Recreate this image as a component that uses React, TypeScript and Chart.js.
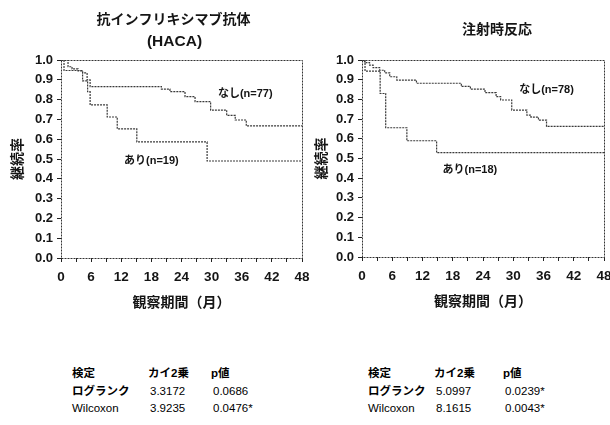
import React, { useEffect, useRef } from 'react';
import { Chart, registerables } from 'chart.js';

Chart.register(...registerables);

// ---- Data: Kaplan-Meier curves (time in months, survival proportion) ----
const hacaNegTimes = [0, 1.4, 2.2, 3.4, 4.3, 5.2, 5.8, 20.0, 21.7, 24.7, 26.7, 29.8, 33.0, 34.7, 36.9, 48];
const hacaNegSurv = [1.0, 0.966, 0.955, 0.945, 0.935, 0.9, 0.866, 0.853, 0.84, 0.815, 0.79, 0.747, 0.72, 0.697, 0.667, 0.667];
const hacaPosTimes = [0, 0.6, 4.3, 5.3, 5.8, 9.2, 11.2, 15.1, 29.1, 48];
const hacaPosSurv = [1.0, 0.947, 0.895, 0.84, 0.773, 0.712, 0.652, 0.586, 0.49, 0.49];

const injNegTimes = [0, 0.5, 1.5, 2.2, 3.5, 4.5, 5.5, 6.9, 10.8, 19.7, 21.5, 24.4, 26.6, 27.5, 29.7, 32.7, 33.5, 35.0, 36.6, 48];
const injNegSurv = [1.0, 0.987, 0.974, 0.961, 0.948, 0.935, 0.915, 0.898, 0.882, 0.866, 0.852, 0.834, 0.814, 0.797, 0.746, 0.72, 0.71, 0.695, 0.663, 0.663];
const injPosTimes = [0, 0.6, 3.6, 4.7, 8.9, 14.8, 48];
const injPosSurv = [1.0, 0.944, 0.83, 0.656, 0.59, 0.53, 0.53];

// ---- Text ----
const hacaTitle = ['抗インフリキシマブ抗体', '(HACA)'];
const injTitle = ['注射時反応'];
const xAxisTitle = '観察期間（月）';
const yAxisTitle = '継続率';
const hacaNegLabel = 'なし(n=77)';
const hacaPosLabel = 'あり(n=19)';
const injNegLabel = 'なし(n=78)';
const injPosLabel = 'あり(n=18)';

// ---- Statistics tables ----
const statHeaders = ['検定', 'カイ2乗', 'p値'];
const testNames = ['ログランク', 'Wilcoxon'];
const hacaChi = ['3.3172', '3.9235'];
const hacaP = ['0.0686', '0.0476*'];
const injChi = ['5.0997', '8.1615'];
const injP = ['0.0239*', '0.0043*'];

const LATIN = '"Liberation Sans", Arial, "Noto Sans CJK JP", sans-serif';
const JP = '"Noto Sans CJK JP", "Liberation Sans", sans-serif';
const INK = '#151515';

const toPoints = (t: number[], s: number[]) => t.map((x, i) => ({ x, y: s[i] }));

const kmTextPlugin = {
  id: 'kmText',
  afterDatasetsDraw(chart: any, _args: any, opts: any) {
    const { ctx, chartArea, scales } = chart;
    ctx.save();
    ctx.strokeStyle = '#333';
    ctx.lineWidth = 1;
    ctx.setLineDash([2, 1]);
    ctx.strokeRect(chartArea.left + 0.5, chartArea.top + 0.5, chartArea.right - chartArea.left, chartArea.bottom - chartArea.top);
    ctx.setLineDash([]);
    ctx.fillStyle = INK;
    ctx.textAlign = 'center';
    ctx.textBaseline = 'middle';
    const cx = (chartArea.left + chartArea.right) / 2;
    (opts.titles || []).forEach((t: any) => {
      ctx.font = t.font;
      ctx.fillText(t.text, cx + t.dx, t.y);
    });
    (opts.labels || []).forEach((l: any) => {
      ctx.font = `bold 11px ${LATIN}`;
      ctx.fillText(l.text, scales.x.getPixelForValue(l.x), scales.y.getPixelForValue(l.y));
    });
    ctx.restore();
  },
};

type KMProps = {
  left: number;
  width: number;
  height: number;
  padRight: number;
  yWidth: number;
  xHeight: number;
  yTitlePad: number;
  xTitlePad: number;
  series: { times: number[]; surv: number[] }[];
  titles: { text: string; dx: number; y: number; font: string }[];
  labels: { text: string; x: number; y: number }[];
};

function KMChart(p: KMProps) {
  const ref = useRef<HTMLCanvasElement>(null);
  useEffect(() => {
    if (!ref.current) return;
    const chart = new Chart(ref.current, {
      type: 'line',
      data: {
        datasets: p.series.map((s) => ({
          data: toPoints(s.times, s.surv),
          stepped: 'before' as const,
          borderColor: '#3a3a3a',
          borderWidth: 1.2,
          borderDash: [2, 1],
          pointRadius: 0,
          fill: false,
        })),
      },
      options: {
        responsive: false,
        animation: false,
        devicePixelRatio: 1,
        layout: { padding: { left: 0, top: 60, right: p.padRight, bottom: 0 } },
        plugins: {
          legend: { display: false },
          tooltip: { enabled: false },
          title: { display: false },
          kmText: { titles: p.titles, labels: p.labels },
        } as any,
        scales: {
          x: {
            type: 'linear',
            min: 0,
            max: 48,
            border: { display: false },
            grid: { drawOnChartArea: false, drawTicks: true, tickLength: 4, color: '#222' },
            ticks: {
              stepSize: 3,
              autoSkip: false,
              maxRotation: 0,
              padding: 7,
              color: INK,
              font: { family: LATIN, size: 13.5, weight: 'bold' },
              callback: (v: any) => (Number(v) % 6 === 0 ? String(v) : ''),
            },
            title: {
              display: true,
              text: xAxisTitle,
              color: INK,
              font: { family: JP, size: 14, weight: 'bold' },
              padding: { top: 0, bottom: p.xTitlePad },
            },
            afterFit: (scale: any) => {
              scale.height = p.xHeight;
              scale.paddingLeft = 0;
              scale.paddingRight = 0;
            },
          },
          y: {
            type: 'linear',
            min: 0,
            max: 1,
            border: { display: false },
            grid: { drawOnChartArea: false, drawTicks: true, tickLength: 4, color: '#222' },
            ticks: {
              stepSize: 0.1,
              padding: 4,
              color: INK,
              font: { family: LATIN, size: 13, weight: 'bold' },
              callback: (v: any) => Number(v).toFixed(1),
            },
            title: {
              display: true,
              text: yAxisTitle,
              color: INK,
              font: { family: JP, size: 14, weight: 'bold' },
              padding: { top: p.yTitlePad, bottom: 0 },
            },
            afterFit: (scale: any) => {
              scale.width = p.yWidth;
            },
          },
        },
      } as any,
      plugins: [kmTextPlugin],
    });
    return () => chart.destroy();
  }, []);
  return (
    <canvas
      ref={ref}
      width={p.width}
      height={p.height}
      style={{ position: 'absolute', left: p.left, top: 0, width: p.width, height: p.height }}
    />
  );
}

function StatTable({ cols, chi, pv }: { cols: number[]; chi: string[]; pv: string[] }) {
  const rowsY = [366, 384, 401];
  const cell = (text: string, x: number, y: number, bold: boolean, key: string) => (
    <div
      key={key}
      style={{
        position: 'absolute',
        left: x,
        top: y,
        fontFamily: LATIN,
        fontSize: 11.5,
        lineHeight: '14px',
        fontWeight: bold ? 'bold' : 'normal',
        color: '#000',
        whiteSpace: 'nowrap',
      }}
    >
      {text}
    </div>
  );
  const out: any[] = [];
  statHeaders.forEach((h, i) => out.push(cell(h, cols[i], rowsY[0], true, 'h' + i)));
  testNames.forEach((n, r) => {
    out.push(cell(n, cols[0], rowsY[r + 1], r === 0, 'n' + r));
    out.push(cell(chi[r], cols[1] + 2, rowsY[r + 1], false, 'c' + r));
    out.push(cell(pv[r], cols[2] + 2, rowsY[r + 1], false, 'p' + r));
  });
  return <>{out}</>;
}

export default function App() {
  return (
    <div style={{ position: 'absolute', left: 0, top: 0, width: 610, height: 425, background: '#fff', overflow: 'hidden' }}>
      <KMChart
        left={0}
        width={315}
        height={320}
        padRight={13}
        yWidth={61}
        xHeight={62}
        yTitlePad={8.6}
        xTitlePad={9.6}
        series={[
          { times: hacaNegTimes, surv: hacaNegSurv },
          { times: hacaPosTimes, surv: hacaPosSurv },
        ]}
        titles={[
          { text: hacaTitle[0], dx: -8, y: 19, font: `bold 14px ${JP}` },
          { text: hacaTitle[1], dx: -7, y: 42, font: `bold 15.5px ${LATIN}` },
        ]}
        labels={[
          { text: hacaNegLabel, x: 36.7, y: 0.828 },
          { text: hacaPosLabel, x: 18, y: 0.49 },
        ]}
      />
      <KMChart
        left={300}
        width={310}
        height={320}
        padRight={6}
        yWidth={62}
        xHeight={63}
        yTitlePad={12.6}
        xTitlePad={10.6}
        series={[
          { times: injNegTimes, surv: injNegSurv },
          { times: injPosTimes, surv: injPosSurv },
        ]}
        titles={[{ text: injTitle[0], dx: 14, y: 28.5, font: `bold 14px ${JP}` }]}
        labels={[
          { text: injNegLabel, x: 36.6, y: 0.848 },
          { text: injPosLabel, x: 21.4, y: 0.44 },
        ]}
      />
      <StatTable cols={[72, 148, 211]} chi={hacaChi} pv={hacaP} />
      <StatTable cols={[368, 434, 503]} chi={injChi} pv={injP} />
    </div>
  );
}
